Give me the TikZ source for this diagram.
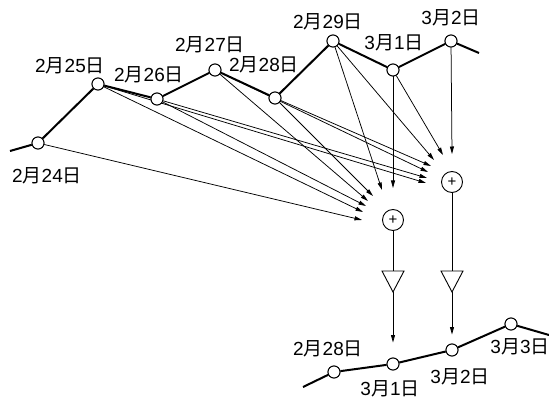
\documentclass[tikz,border=0pt]{standalone}
\usepackage{fontspec}
\setmainfont{Liberation Sans}
\newfontfamily\cjkf{Noto Sans CJK SC}
\newcommand{\mdate}[2]{#1{\cjkf 月}#2{\cjkf 日}}
\usetikzlibrary{arrows.meta}
\begin{document}
\begin{tikzpicture}[x=1pt,y=-1pt,
  dot/.style={circle,draw,fill=white,line width=0.9pt,minimum size=12pt,inner sep=0pt},
  sumnode/.style={circle,draw,fill=white,line width=0.9pt,minimum size=21pt,inner sep=0pt,font=\fontsize{15}{15}\selectfont},
  lbl/.style={inner sep=0pt,font=\fontsize{19}{21}\selectfont},
  series/.style={line width=2pt},
  conn/.style={line width=0.75pt,-{Triangle[length=7.5pt,width=4pt]}},
  plainline/.style={line width=0.75pt},
  amp/.style={line width=0.9pt,fill=white}]
\useasboundingbox (0,0) rectangle (549,401);

% top series nodes
\coordinate (tstart) at (10,151);
\coordinate (tend) at (479,53);
\node[dot] (n24) at (38,143) {};
\node[dot] (n25) at (98,84) {};
\node[dot] (n26) at (157,99) {};
\node[dot] (n27) at (215,70) {};
\node[dot] (n28) at (275,98) {};
\node[dot] (n29) at (333,41) {};
\node[dot] (n01) at (393,70) {};
\node[dot] (n02) at (451,41) {};

% summation nodes
\node[sumnode] (sL) at (393,220) {+};
\node[sumnode] (sR) at (452,182) {+};

% arrow tip coordinates (left)
\coordinate (l24) at (362,220);
\coordinate (l25) at (363,212);
\coordinate (l26) at (366,206);
\coordinate (l27) at (368,201);
\coordinate (l28) at (373,196);
\coordinate (l29) at (382,190);
\coordinate (l01) at (393,188);
% arrow tip coordinates (right)
\coordinate (r25) at (426,183);
\coordinate (r26) at (427,178);
\coordinate (r27) at (428,172);
\coordinate (r28) at (431,166);
\coordinate (r29) at (434,160);
\coordinate (r01) at (443,155);
\coordinate (r02) at (452,154);

% bottom series
\coordinate (bstart) at (303,387);
\coordinate (bend) at (549,335);
\node[dot] (b28) at (334,372) {};
\node[dot] (b01) at (393,364) {};
\node[dot] (b02) at (452,350) {};
\node[dot] (b03) at (511,324) {};

% series lines
\draw[series] (tstart) -- (n24) -- (n25) -- (n26) -- (n27) -- (n28) -- (n29) -- (n01) -- (n02) -- (tend);
\draw[series] (bstart) -- (b28) -- (b01) -- (b02) -- (b03) -- (bend);

% weighting arrows
\foreach \s/\t in {n24/l24,n25/l25,n26/l26,n27/l27,n28/l28,n29/l29,n01/l01,
                   n25/r25,n26/r26,n27/r27,n28/r28,n29/r29,n01/r01,n02/r02}
  \draw[conn] (\s) -- (\t);

% amplifiers
\coordinate (aLtop) at (393,271);
\coordinate (aLtip) at (393,292);
\coordinate (aRtop) at (452,271);
\coordinate (aRtip) at (452,292);
\draw[plainline] (sL) -- (aLtop);
\draw[plainline] (sR) -- (aRtop);
\draw[amp] ([xshift=-11pt]aLtop) -- ([xshift=11pt]aLtop) -- (aLtip) -- cycle;
\draw[amp] ([xshift=-11pt]aRtop) -- ([xshift=11pt]aRtop) -- (aRtip) -- cycle;
\draw[conn,shorten >=15pt] (aLtip) -- (b01);
\draw[conn,shorten >=9pt] (aRtip) -- (b02);

% redraw nodes on top
\foreach \n in {n24,n25,n26,n27,n28,n29,n01,n02,b28,b01,b02,b03}
  \node[dot] at (\n) {};

% labels
\node[lbl] (t24) at (47,176) {\mdate{2}{24}};
\node[lbl] (t25) at (70,66) {\mdate{2}{25}};
\node[lbl] (t26) at (149,75) {\mdate{2}{26}};
\node[lbl] (t27) at (210,45) {\mdate{2}{27}};
\node[lbl] (t28) at (264,65) {\mdate{2}{28}};
\node[lbl] (t29) at (328,22) {\mdate{2}{29}};
\node[lbl] (t01) at (394,43) {\mdate{3}{1}};
\node[lbl] (t02) at (451,18) {\mdate{3}{2}};
\node[lbl] (u28) at (328,349) {\mdate{2}{28}};
\node[lbl] (u01) at (390,389) {\mdate{3}{1}};
\node[lbl] (u02) at (460,377) {\mdate{3}{2}};
\node[lbl] (u03) at (520,347) {\mdate{3}{3}};
\end{tikzpicture}
\end{document}
